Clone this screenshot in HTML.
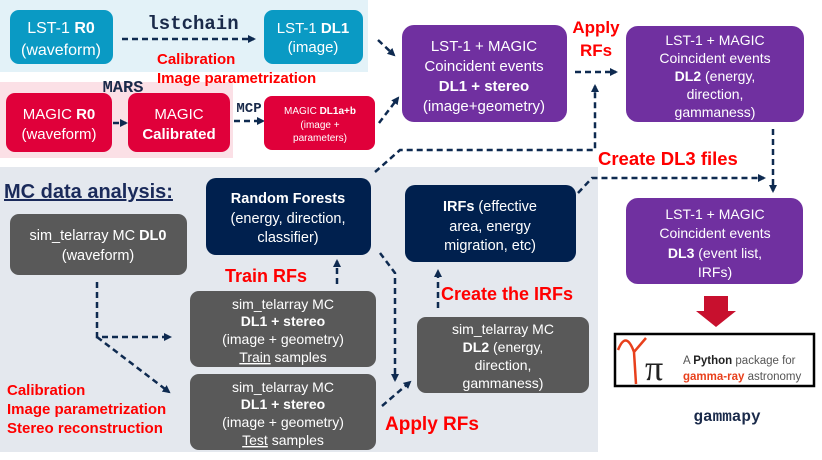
<!DOCTYPE html>
<html><head><meta charset="utf-8"><style>
html,body{margin:0;padding:0;background:#fff;}
svg{display:block;font-family:"Liberation Sans",sans-serif;}
.w{fill:#fff;text-anchor:middle;}
.r{fill:#f00;font-weight:bold;}
.m{font-family:"Liberation Mono",monospace;font-weight:bold;fill:#1a2a4a;}
.d{stroke:#0e2a50;stroke-width:2.5;stroke-dasharray:6,4;fill:none;}
</style></head><body>
<svg width="822" height="460" viewBox="0 0 822 460">
<defs><marker id="a" markerWidth="8" markerHeight="8" refX="6" refY="4" orient="auto" markerUnits="userSpaceOnUse"><path d="M0,0 L8,4 L0,8 z" fill="#0e2a50"/></marker></defs>
<rect x="0" y="0" width="368" height="72" fill="#e3f2f8"/>
<rect x="0" y="82" width="233" height="76" fill="#fbe0e6"/>
<rect x="0" y="167" width="598" height="285" fill="#e4e8ee"/>

<rect x="10" y="10" width="103" height="54" rx="9" fill="#0a9ac4"/>
<text class="w" font-size="16"><tspan x="61" y="33">LST-1 <tspan font-weight="bold">R0</tspan></tspan><tspan x="61" y="55">(waveform)</tspan></text>
<rect x="264" y="10" width="99" height="54" rx="9" fill="#0a9ac4"/>
<text class="w" font-size="15"><tspan x="313" y="33">LST-1 <tspan font-weight="bold">DL1</tspan></tspan><tspan x="313" y="52">(image)</tspan></text>
<text class="m" x="193" y="29" font-size="19" text-anchor="middle">lstchain</text>
<line class="d" x1="122" y1="39" x2="254" y2="39" marker-end="url(#a)"/>
<text class="r" font-size="15"><tspan x="157" y="64">Calibration</tspan><tspan x="157" y="83">Image parametrization</tspan></text>

<text class="m" x="123" y="92" font-size="17" text-anchor="middle">MARS</text>
<rect x="6" y="93" width="106" height="59" rx="9" fill="#e0003a"/>
<text class="w" font-size="15"><tspan x="59" y="119">MAGIC <tspan font-weight="bold">R0</tspan></tspan><tspan x="59" y="139">(waveform)</tspan></text>
<rect x="128" y="93" width="102" height="59" rx="9" fill="#e0003a"/>
<text class="w" font-size="15"><tspan x="179" y="119">MAGIC</tspan><tspan x="179" y="139" font-weight="bold">Calibrated</tspan></text>
<line x1="113" y1="123" x2="126" y2="123" class="d" stroke-dasharray="4,2" marker-end="url(#a)"/>
<text class="m" x="249" y="112" font-size="14" text-anchor="middle">MCP</text>
<line class="d" x1="234" y1="121" x2="263" y2="121" marker-end="url(#a)"/>
<rect x="264" y="96" width="111" height="54" rx="8" fill="#e0003a"/>
<text class="w" font-size="10"><tspan x="320" y="114">MAGIC <tspan font-weight="bold">DL1a+b</tspan></tspan><tspan x="320" y="128">(image +</tspan><tspan x="320" y="141">parameters)</tspan></text>

<rect x="402" y="25" width="165" height="97" rx="12" fill="#7030a0"/>
<text class="w" font-size="15"><tspan x="484" y="51">LST-1 + MAGIC</tspan><tspan x="484" y="71">Coincident events</tspan><tspan x="484" y="91" font-weight="bold">DL1 + stereo</tspan><tspan x="484" y="111">(image+geometry)</tspan></text>
<text class="r" font-size="17" text-anchor="middle"><tspan x="596" y="33">Apply</tspan><tspan x="596" y="56">RFs</tspan></text>
<line class="d" x1="575" y1="72" x2="616" y2="72" marker-end="url(#a)"/>
<rect x="626" y="26" width="178" height="96" rx="12" fill="#7030a0"/>
<text class="w" font-size="14"><tspan x="715" y="45">LST-1 + MAGIC</tspan><tspan x="715" y="63">Coincident events</tspan><tspan x="715" y="81"><tspan font-weight="bold">DL2</tspan>  (energy,</tspan><tspan x="715" y="99">direction,</tspan><tspan x="715" y="117">gammaness)</tspan></text>
<line class="d" x1="773" y1="129" x2="773" y2="191" marker-end="url(#a)"/>
<text class="r" x="598" y="165" font-size="18.5">Create DL3 files</text>

<line class="d" x1="378" y1="40" x2="394" y2="55" marker-end="url(#a)"/>
<line class="d" x1="379" y1="123" x2="398" y2="98" marker-end="url(#a)"/>
<polyline class="d" points="375,172 400,150 595,150 595,86" marker-end="url(#a)"/>
<polyline class="d" points="578,193 592,178 764,178" marker-end="url(#a)"/>

<text x="4" y="198" font-size="20" font-weight="bold" fill="#1a2a5a" text-decoration="underline">MC data analysis:</text>
<rect x="10" y="214" width="177" height="61" rx="9" fill="#595959"/>
<text class="w" font-size="14.5"><tspan x="98" y="240">sim_telarray MC <tspan font-weight="bold">DL0</tspan></tspan><tspan x="98" y="260">(waveform)</tspan></text>
<rect x="206" y="178" width="165" height="77" rx="10" fill="#00204e"/>
<text class="w" font-size="14.5"><tspan x="288" y="203" font-weight="bold">Random Forests</tspan><tspan x="288" y="223">(energy, direction,</tspan><tspan x="288" y="242">classifier)</tspan></text>
<text class="r" x="225" y="282" font-size="18">Train RFs</text>
<line class="d" x1="337" y1="284" x2="337" y2="261" marker-end="url(#a)"/>
<rect x="190" y="291" width="186" height="76" rx="9" fill="#595959"/>
<text class="w" font-size="14"><tspan x="283" y="309">sim_telarray MC</tspan><tspan x="283" y="326" font-weight="bold">DL1 + stereo</tspan><tspan x="283" y="344">(image + geometry)</tspan><tspan x="283" y="362"><tspan text-decoration="underline">Train</tspan> samples</tspan></text>
<rect x="190" y="374" width="186" height="76" rx="9" fill="#595959"/>
<text class="w" font-size="14"><tspan x="283" y="392">sim_telarray MC</tspan><tspan x="283" y="409" font-weight="bold">DL1 + stereo</tspan><tspan x="283" y="427">(image + geometry)</tspan><tspan x="283" y="445"><tspan text-decoration="underline">Test</tspan> samples</tspan></text>
<polyline class="d" points="97,282 97,337 170,337" marker-end="url(#a)"/>
<line class="d" x1="97" y1="337" x2="169" y2="392" marker-end="url(#a)"/>
<text class="r" font-size="15"><tspan x="7" y="395">Calibration</tspan><tspan x="7" y="414">Image parametrization</tspan><tspan x="7" y="433">Stereo reconstruction</tspan></text>
<polyline class="d" points="380,253 395,273 395,380" marker-end="url(#a)"/>
<line class="d" x1="382" y1="406" x2="410" y2="382" marker-end="url(#a)"/>
<text class="r" x="385" y="430" font-size="19">Apply RFs</text>

<rect x="405" y="185" width="171" height="77" rx="10" fill="#00204e"/>
<text class="w" font-size="14.5"><tspan x="490" y="211"><tspan font-weight="bold">IRFs</tspan> (effective</tspan><tspan x="490" y="231">area, energy</tspan><tspan x="490" y="250">migration, etc)</tspan></text>
<line class="d" x1="438" y1="308" x2="438" y2="271" marker-end="url(#a)"/>
<text class="r" x="441" y="300" font-size="18">Create the IRFs</text>
<rect x="417" y="317" width="172" height="76" rx="9" fill="#595959"/>
<text class="w" font-size="14"><tspan x="503" y="334">sim_telarray MC</tspan><tspan x="503" y="352"><tspan font-weight="bold">DL2</tspan> (energy,</tspan><tspan x="503" y="370">direction,</tspan><tspan x="503" y="388">gammaness)</tspan></text>

<rect x="626" y="198" width="177" height="86" rx="12" fill="#7030a0"/>
<text class="w" font-size="14"><tspan x="715" y="219">LST-1 + MAGIC</tspan><tspan x="715" y="238">Coincident events</tspan><tspan x="715" y="258"><tspan font-weight="bold">DL3</tspan>  (event list,</tspan><tspan x="715" y="277">IRFs)</tspan></text>
<path d="M704,296 L728,296 L728,311 L736,311 L716,327 L696,311 L704,311 z" fill="#c8102e"/>
<rect x="615" y="334" width="199" height="52" fill="#fff" stroke="#000" stroke-width="2.5"/>
<path d="M618,350 Q626,330 634,352 L636,384 M634,352 L646,338" stroke="#e8401c" stroke-width="2.5" fill="none"/>
<text x="645" y="380" font-size="36" font-family="Liberation Serif,serif" fill="#222">π</text>
<text x="683" y="364" font-size="11.5" fill="#555">A <tspan font-weight="bold" fill="#222">Python</tspan> package for</text>
<text x="683" y="380" font-size="11.5" fill="#555"><tspan font-weight="bold" fill="#e8401c">gamma-ray</tspan> astronomy</text>
<text class="m" x="727" y="421" font-size="16" text-anchor="middle">gammapy</text>
</svg>
</body></html>
